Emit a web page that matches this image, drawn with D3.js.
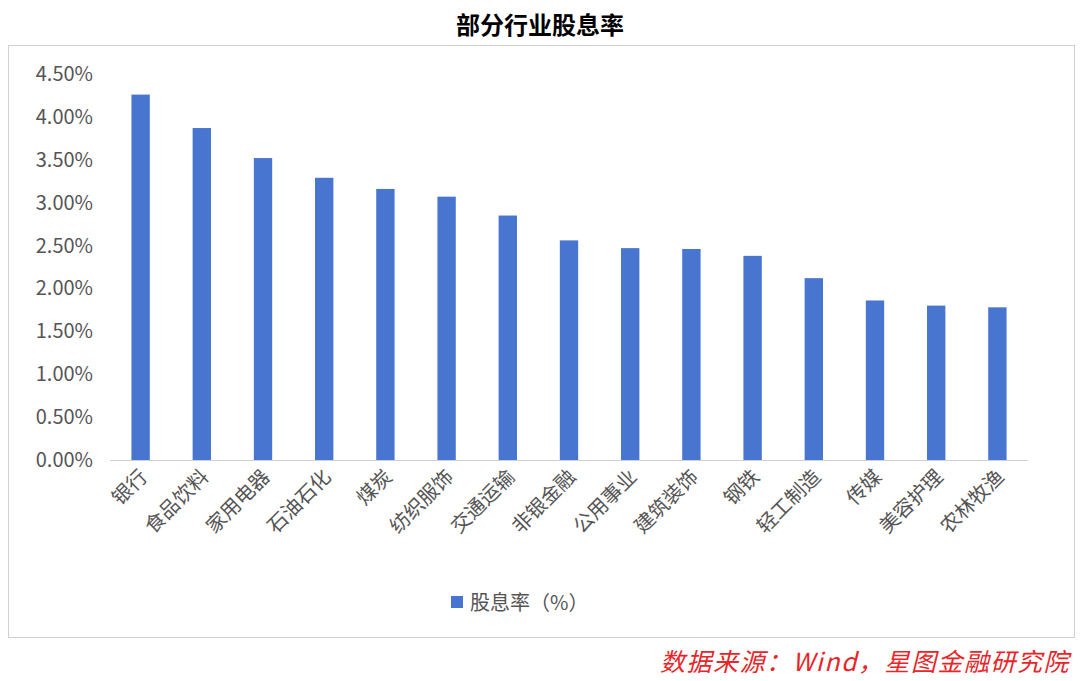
<!DOCTYPE html>
<html><head><meta charset="utf-8">
<script src="https://cdn.jsdelivr.net/npm/d3@7"></script>
<style>body{margin:0;background:#fff;font-family:"Noto Sans CJK SC","Noto Sans",sans-serif}</style>
</head><body><svg id="c" width="1080" height="681"></svg>
<script>
const categories = ["银行","食品饮料","家用电器","石油石化","煤炭","纺织服饰","交通运输","非银金融","公用事业","建筑装饰","钢铁","轻工制造","传媒","美容护理","农林牧渔"];
const values = [4.26,3.87,3.52,3.29,3.16,3.07,2.85,2.56,2.47,2.46,2.38,2.12,1.86,1.80,1.78];
const ticks = [0,0.5,1,1.5,2,2.5,3,3.5,4,4.5];

const svg = d3.select("#c");
svg.append("rect").attr("x",8.5).attr("y",45.5).attr("width",1066).attr("height",592)
  .attr("fill","none").attr("stroke","#d0d0d0");
svg.append("text").attr("x",540).attr("y",34).attr("text-anchor","middle")
  .attr("font-size",24).attr("font-weight","bold").text("部分行业股息率");

const x = d3.scaleBand().domain(categories).range([110,1028]).paddingInner(0.7).paddingOuter(0.35);
const y = d3.scaleLinear().domain([0,4.5]).range([460,74]);

svg.append("g").selectAll("text").data(ticks).join("text")
  .attr("x",93).attr("y",d=>y(d)+7).attr("text-anchor","end")
  .attr("font-size",20).attr("fill","#555").text(d=>d.toFixed(2)+"%");

svg.append("line").attr("x1",110).attr("x2",1028).attr("y1",460.5).attr("y2",460.5).attr("stroke","#d0d0d0");

svg.append("g").selectAll("rect").data(values).join("rect")
  .attr("x",(d,i)=>x(categories[i])).attr("width",x.bandwidth())
  .attr("y",d=>y(d)).attr("height",d=>460-y(d)).attr("fill","#4775CF");

svg.append("g").selectAll("text").data(categories).join("text")
  .attr("transform",d=>`translate(${x(d)+x.bandwidth()/2+8},${478}) rotate(-45)`)
  .attr("text-anchor","end").attr("font-size",20).attr("fill","#555").text(d=>d);

svg.append("rect").attr("x",451).attr("y",596).attr("width",12).attr("height",12).attr("fill","#4775CF");
svg.append("text").attr("x",470).attr("y",610).attr("font-size",20).attr("fill","#555").text("股息率（%）");

svg.append("text").attr("x",1070).attr("y",671).attr("text-anchor","end")
  .attr("font-size",25).attr("letter-spacing",1.5).attr("font-style","italic").attr("fill","#e8262a").text("数据来源：Wind，星图金融研究院");
</script></body></html>
